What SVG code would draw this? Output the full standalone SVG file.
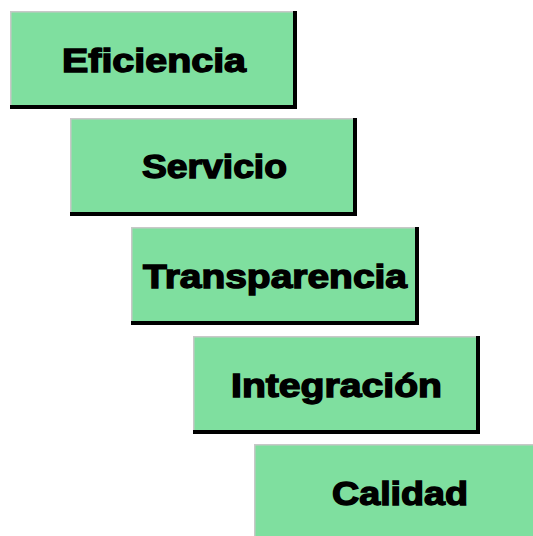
<svg xmlns="http://www.w3.org/2000/svg" width="533" height="536" viewBox="0 0 533 536">
<style>
.shadow{fill:#000000;}
.box{fill:#7FDF9F;}
.edge{fill:none;stroke:#C8C8C8;stroke-width:1.5;}
.lbl{font-family:"Liberation Sans",Arial,sans-serif;font-weight:bold;font-size:33px;fill:#000;stroke:#000;stroke-width:1.4;}
</style>
<rect width="533" height="536" fill="#ffffff"/>
<g id="connectors"></g>
<g id="eficiencia">
<rect class="shadow" x="10" y="11" width="287" height="98"/>
<rect class="box" x="10" y="11" width="283" height="94"/>
<path class="edge" d="M10.75 105V11.75H293"/>
<text class="lbl" x="62" y="72" textLength="184" lengthAdjust="spacingAndGlyphs">Eficiencia</text>
</g>
<g id="servicio">
<rect class="shadow" x="70" y="118" width="287" height="98"/>
<rect class="box" x="70" y="118" width="283" height="94"/>
<path class="edge" d="M70.75 212V118.75H353"/>
<text class="lbl" x="142" y="178" textLength="145" lengthAdjust="spacingAndGlyphs">Servicio</text>
</g>
<g id="transparencia">
<rect class="shadow" x="131" y="227" width="288" height="98"/>
<rect class="box" x="131" y="227" width="284" height="94"/>
<path class="edge" d="M131.75 321V227.75H415"/>
<text class="lbl" x="143" y="288" textLength="264" lengthAdjust="spacingAndGlyphs">Transparencia</text>
</g>
<g id="integracion">
<rect class="shadow" x="193" y="336" width="287" height="98"/>
<rect class="box" x="193" y="336" width="283" height="94"/>
<path class="edge" d="M193.75 430V336.75H476"/>
<text class="lbl" x="231" y="397" textLength="211" lengthAdjust="spacingAndGlyphs">Integración</text>
</g>
<g id="calidad">
<rect class="shadow" x="254" y="444" width="287" height="98"/>
<rect class="box" x="254" y="444" width="283" height="94"/>
<path class="edge" d="M254.75 538V444.75H537"/>
<text class="lbl" x="332" y="505" textLength="136" lengthAdjust="spacingAndGlyphs">Calidad</text>
</g>
</svg>
